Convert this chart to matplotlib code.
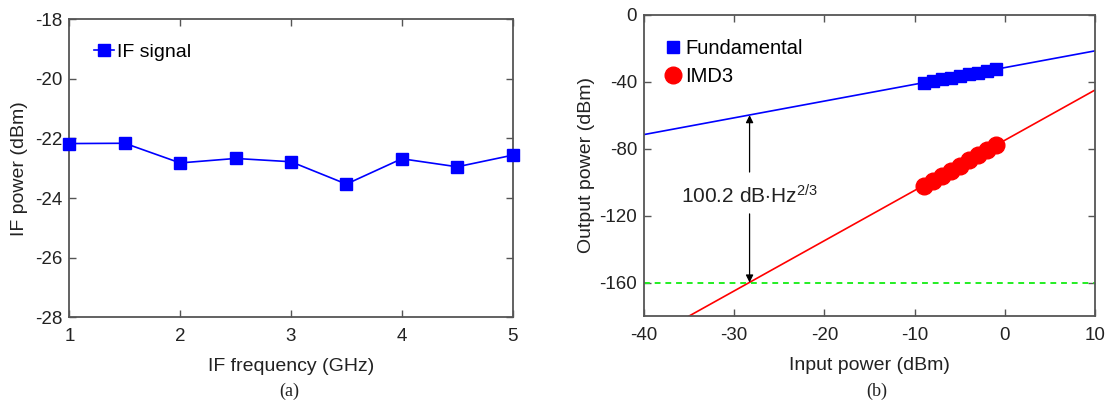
import matplotlib
matplotlib.use("Agg")
import matplotlib.pyplot as plt
from matplotlib.lines import Line2D

plt.rcParams['font.family'] = ['Liberation Sans', 'DejaVu Sans']
plt.rcParams['mathtext.fontset'] = 'custom'
plt.rcParams['mathtext.rm'] = 'Liberation Sans'
plt.rcParams['mathtext.it'] = 'Liberation Sans'
plt.rcParams['axes.unicode_minus'] = False

# ---- Panel (a) data ----
if_freq = [1.0, 1.5, 2.0, 2.5, 3.0, 3.5, 4.0, 4.5, 5.0]
if_power = [-22.17, -22.16, -22.82, -22.67, -22.78, -23.53, -22.68, -22.95, -22.56]
a_xticks = [1, 2, 3, 4, 5]
a_yticks = [-18, -20, -22, -24, -26, -28]

# ---- Panel (b) data ----
pin = [-9, -8, -7, -6, -5, -4, -3, -2, -1]
fund = [-40.6, -39.6, -38.6, -37.6, -36.6, -35.6, -34.6, -33.6, -32.6]
imd3 = [-102.3, -99.2, -96.3, -93.1, -90.2, -87.0, -84.1, -80.9, -77.9]
fund_fit_x = [-40, 10]
fund_fit_y = [-71.6, -21.6]
imd_fit_x = [-35, 10]
imd_fit_y = [-180, -45]
noise_floor = -160
arrow_x = -28.3
arrow_top = -60
b_xticks = [-40, -30, -20, -10, 0, 10]
b_yticks = [0, -40, -80, -120, -160]

spine_col = '#555555'
txt_col = '#222222'
fs_tick = 13.5
fs_lab = 14

fig = plt.figure(figsize=(11.11, 4.03), dpi=100)

def style(ax):
    for s in ax.spines.values():
        s.set_color(spine_col)
        s.set_linewidth(1.3)
    ax.tick_params(direction='in', length=5, width=1.0, color=spine_col,
                   top=True, right=True, labelsize=fs_tick, pad=5, labelcolor=txt_col)
    ax.tick_params(axis='x', pad=8)

# Panel (a)
ax1 = fig.add_axes([0.0624, 0.2127, 0.399, 0.7394])
ax1.plot(if_freq, if_power, color='#0000ff', lw=1.2, marker='s', ms=8.5,
         mfc='#0000ff', mec='#0000ff', label='IF signal', clip_on=False, zorder=5)
ax1.set_xlim(1, 5)
ax1.set_ylim(-28, -18)
ax1.set_xticks(a_xticks)
ax1.set_yticks(a_yticks)
style(ax1)
ax1.set_xlabel('IF frequency (GHz)', fontsize=fs_lab, color=txt_col, labelpad=9)
ax1.set_ylabel('IF power (dBm)', fontsize=fs_lab, color=txt_col, labelpad=5)
ax1.legend(loc='upper left', bbox_to_anchor=(0.03, 0.96), frameon=False,
           fontsize=fs_lab, handlelength=1.0, handletextpad=0.15, borderaxespad=0.2)

# Panel (b)
ax2 = fig.add_axes([0.5797, 0.2159, 0.4059, 0.7476])
ax2.plot(fund_fit_x, fund_fit_y, color='#0000ff', lw=1.2)
ax2.plot(imd_fit_x, imd_fit_y, color='#ff0000', lw=1.2)
ax2.axhline(noise_floor, color='#22ee22', lw=1.4, ls=(0, (3, 2.5)))
ax2.plot(pin, fund, ls='none', marker='s', ms=9, color='#0000ff')
ax2.plot(pin, imd3, ls='none', marker='o', ms=12, color='#ff0000')
ax2.annotate('', xy=(arrow_x, arrow_top), xytext=(arrow_x, -94),
             arrowprops=dict(arrowstyle='-|>', color='black', lw=0.9,
                             mutation_scale=11, shrinkA=0, shrinkB=0))
ax2.annotate('', xy=(arrow_x, noise_floor), xytext=(arrow_x, -119),
             arrowprops=dict(arrowstyle='-|>', color='black', lw=0.9,
                             mutation_scale=11, shrinkA=0, shrinkB=0))
ax2.text(arrow_x, -108.5, r'100.2 dB$\cdot$Hz$^{2/3}$', ha='center', va='center',
         fontsize=15, color=txt_col)
ax2.set_xlim(-40, 10)
ax2.set_ylim(-180, 0)
ax2.set_xticks(b_xticks)
ax2.set_yticks(b_yticks)
style(ax2)
ax2.set_xlabel('Input power (dBm)', fontsize=fs_lab, color=txt_col, labelpad=9)
ax2.set_ylabel('Output power (dBm)', fontsize=fs_lab, color=txt_col, labelpad=3)
handles = [Line2D([], [], ls='none', marker='s', ms=9, color='#0000ff'),
           Line2D([], [], ls='none', marker='o', ms=12, color='#ff0000')]
ax2.legend(handles, ['Fundamental', 'IMD3'], loc='upper left',
           bbox_to_anchor=(0.02, 0.96), frameon=False, fontsize=14.5,
           handlelength=0.8, handletextpad=0.2, borderaxespad=0.2, labelspacing=0.45)

fig.text(289 / 1111, 1 - 391 / 403, '(a)', ha='center', va='center',
         fontsize=13, family='Liberation Serif', color=txt_col)
fig.text(877 / 1111, 1 - 391 / 403, '(b)', ha='center', va='center',
         fontsize=13, family='Liberation Serif', color=txt_col)

fig.savefig('out.png', dpi=100)
